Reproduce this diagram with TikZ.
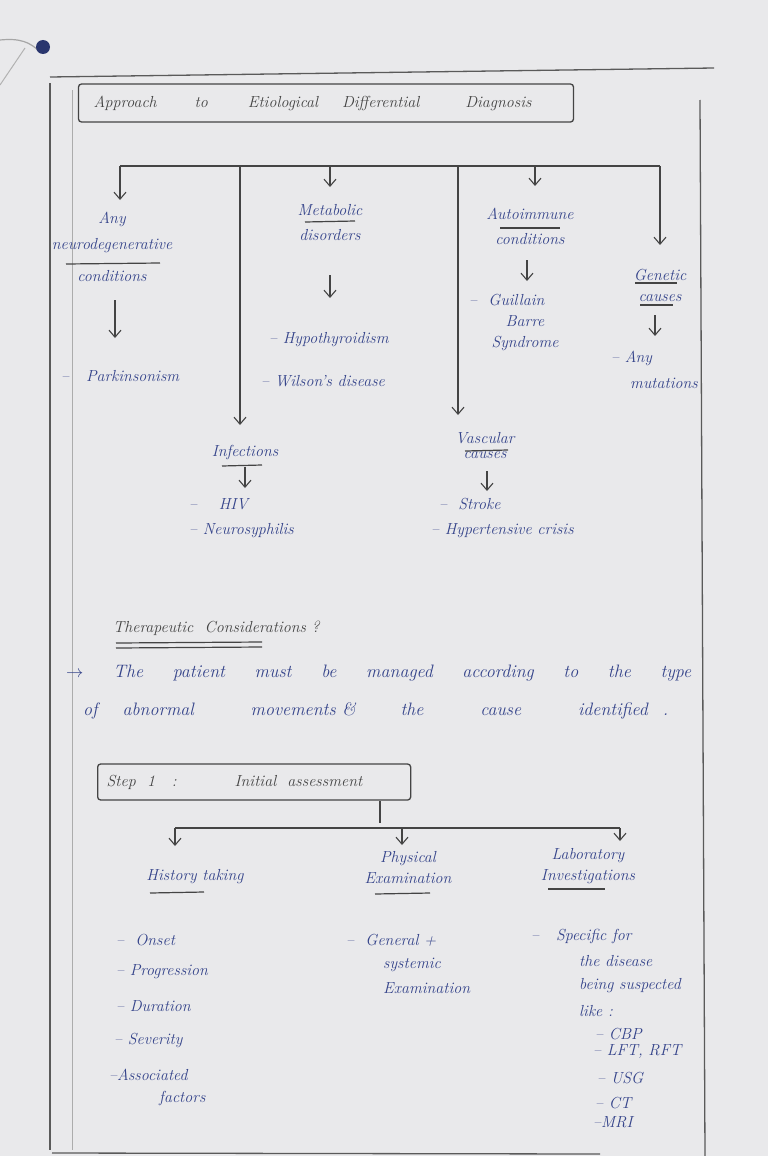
\documentclass[tikz,border=0pt]{standalone}
\usetikzlibrary{arrows.meta}
\definecolor{paper}{HTML}{E9E9EB}
\definecolor{ink}{HTML}{34438A}
\definecolor{pencil}{HTML}{444444}
\definecolor{rule}{HTML}{5A5A5A}
\tikzset{
  every node/.style={font=\fontsize{16}{19}\selectfont\itshape, inner sep=1pt},
  lbl/.style={text=ink, align=center},
  itm/.style={text=ink, anchor=west, align=left},
  ptxt/.style={text=pencil},
  conn/.style={draw=pencil, line width=1.1pt},
  arr/.style={conn, -{Straight Barb[length=7pt,width=12pt]}},
  uline/.style={draw=pencil, line width=1.2pt},
  frame/.style={draw=rule, line width=1.3pt},
  boxed/.style={draw=pencil, line width=1.3pt, rounded corners=3pt, text=pencil, inner sep=6pt}
}
\begin{document}
\begin{tikzpicture}[x=1pt,y=-1pt]
\useasboundingbox (0,0) rectangle (768,1156);
\fill[paper] (0,0) rectangle (768,1156);
% page frame
\draw[frame] (50,77) -- (714,68);
\draw[frame] (50,83) -- (50,1150);
\draw[frame] (700,100) -- (705,1156);
\draw[draw=rule!50, line width=0.8pt] (72,90) -- (72,1150);
\draw[frame] (52,1153) -- (600,1154);
% binding hole and string
\draw[draw=gray!70, line width=1.2pt] (0,40) .. controls (20,38) and (30,42) .. (40,52);
\draw[draw=gray!60, line width=1pt] (25,48) -- (0,85);
\fill[ink!80!black] (43,47) circle (7);

% title
\node[boxed, minimum width=495pt, minimum height=38pt] (title) at (326,103)
  {\makebox[465pt][l]{Approach\hspace{38pt}to\hspace{40pt}Etiological\hspace{24pt}Differential\hspace{46pt}Diagnosis}};

% top bar
\coordinate (b1) at (120,166);
\coordinate (b2) at (240,166);
\coordinate (b3) at (330,166);
\coordinate (b4) at (458,166);
\coordinate (b5) at (535,166);
\coordinate (b6) at (660,166);
\draw[conn] (b1) -- (b6);

% categories
\node[lbl] (neuro) at (112,247) {Any\\[7pt] neurodegenerative\\[13pt] conditions};
\node[lbl] (meta) at (330,223) {Metabolic\\[6pt] disorders};
\node[lbl] (auto) at (530,226) {Autoimmune\\[6pt] conditions};
\node[lbl] (gene) at (660,285) {Genetic\\[2pt] causes};
\node[lbl] (inf) at (245,452) {Infections};
\node[lbl] (vasc) at (485,446) {Vascular\\[-4pt] causes};

\draw[arr] (b1) -- (120,200);
\draw[arr] (b2) -- (240,425);
\draw[arr] (b3) -- (330,187);
\draw[arr] (b4) -- (458,415);
\draw[arr] (b5) -- (535,186);
\draw[arr] (b6) -- (660,245);

% underlines
\draw[uline] (66,264) -- (160,263);
\draw[uline] (305,222) -- (355,221);
\draw[uline] (500,228) -- (560,228);
\draw[uline] (635,283) -- (677,283);
\draw[uline] (640,305) -- (673,305);
\draw[uline] (222,466) -- (262,465);
\draw[uline] (465,451) -- (508,450);

% sub-lists
\coordinate (ps) at (115,300);
\node[itm] (park) at (60,376) {-- \ \ Parkinsonism};
\draw[arr] (ps) -- (115,338);

\coordinate (ms) at (330,275);
\draw[arr] (ms) -- (330,298);
\node[itm] (hypo) at (268,340) {-- Hypothyroidism};
\node[itm] (wil) at (260,381) {-- Wilson's disease};

\coordinate (as) at (527,260);
\draw[arr] (as) -- (527,281);
\node[itm] (gbs) at (468,300) {-- \ Guillain};
\node[lbl] (gbs2) at (525,333) {Barre\\[2pt] Syndrome};

\coordinate (gs) at (655,315);
\draw[arr] (gs) -- (655,336);
\node[itm] (mut) at (610,358) {-- Any};
\node[lbl] (mut2) at (664,383) {mutations};

\coordinate (is) at (245,467);
\draw[arr] (is) -- (245,488);
\node[itm] (hiv) at (188,504) {-- \quad HIV};
\node[itm] (neurosyph) at (188,531) {-- Neurosyphilis};

\coordinate (vs) at (487,471);
\draw[arr] (vs) -- (487,491);
\node[itm] (stroke) at (438,504) {-- \ Stroke};
\node[itm] (htn) at (430,531) {-- Hypertensive crisis};

% therapeutic considerations
\node[ptxt, anchor=west] (ther) at (112,628) {Therapeutic \ Considerations ?};
\draw[uline] (116,643) -- (262,642);
\draw[uline] (116,648) -- (262,647);
\node[itm, font=\fontsize{18}{21}\selectfont\itshape] (tp1) at (65,673)
  {\makebox[625pt][s]{$\rightarrow$\hspace{30pt}The\hfill patient\hfill must\hfill be\hfill managed\hfill according\hfill to\hfill the\hfill type}};
\node[itm, font=\fontsize{18}{21}\selectfont\itshape] (tp2) at (82,711)
  {\makebox[585pt][s]{of\hspace{25pt}abnormal\hfill movements \&\hspace{45pt}the\hfill cause\hfill identified\hspace{15pt}.}};

% step 1
\node[boxed, minimum width=313pt, minimum height=36pt, anchor=west] (step) at (97,782)
  {\makebox[295pt][l]{Step \ 1 \ \ :\hspace{58pt}Initial \ assessment}};
\coordinate (s1) at (380,823);
\draw[conn] (380,801) -- (s1);
\coordinate (c1) at (175,828);
\coordinate (c2) at (402,828);
\coordinate (c3) at (620,828);
\draw[conn] (c1) -- (c3);
\draw[arr] (c1) -- (175,846);
\draw[arr] (c2) -- (402,845);
\draw[arr] (c3) -- (620,841);

\node[lbl] (hist) at (195,877) {History taking};
\node[lbl] (phys) at (408,868) {Physical\\[2pt] Examination};
\node[lbl] (lab) at (588,866) {Laboratory\\[2pt] Investigations};
\draw[uline] (150,893) -- (204,892);
\draw[uline] (375,894) -- (430,893);
\draw[uline] (548,889) -- (605,889);

% history list
\node[itm] (h1) at (115,940) {-- \ Onset};
\node[itm] (h2) at (115,972) {-- Progression};
\node[itm] (h3) at (115,1006) {-- Duration};
\node[itm] (h4) at (113,1040) {-- Severity};
\node[itm] (h5) at (108,1075) {--Associated};
\node[itm] (h6) at (158,1098) {factors};

% physical list
\node[itm] (p1) at (345,940) {-- \ General +};
\node[itm] (p2) at (382,965) {systemic};
\node[itm] (p3) at (382,988) {Examination};

% lab list
\node[itm] (l1) at (530,936) {-- \ \ Specific for};
\node[itm] (l2) at (578,961) {the disease};
\node[itm] (l3) at (578,986) {being suspected};
\node[itm] (l4) at (578,1011) {like :};
\node[itm] (l5) at (594,1034) {-- CBP};
\node[itm] (l6) at (592,1052) {-- LFT, RFT};
\node[itm] (l7) at (596,1078) {-- USG};
\node[itm] (l8) at (594,1103) {-- CT};
\node[itm] (l9) at (592,1122) {--MRI};
\end{tikzpicture}
\end{document}
